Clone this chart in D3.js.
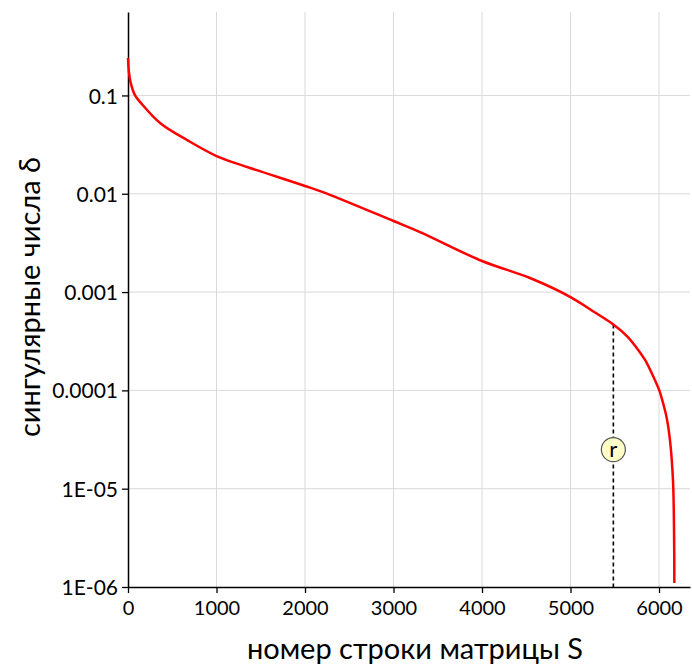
<!DOCTYPE html>
<html>
<head>
<meta charset="utf-8">
<script src="https://cdn.jsdelivr.net/npm/d3@7"></script>
<style>
  body { margin: 0; background: #fff; }
  text { font-family: Lato, "Open Sans", sans-serif; fill: #000; }
</style>
</head>
<body>
<div id="chart"></div>
<script>
// singular values
var rowIndex = [0, 10, 30, 80, 150, 362, 667, 1000, 1379, 2000, 2288, 3000, 3300, 4000, 4542, 5000, 5258, 5484, 5640, 5750, 5842, 5936, 6003, 6049, 6087, 6124, 6158, 6170, 6173];
var sigma = [0.241, 0.175, 0.135, 0.1, 0.083, 0.0525, 0.0352, 0.0242, 0.0183, 0.0120, 0.0097, 0.00528, 0.00407, 0.00207, 0.00139, 0.00089, 0.000635, 0.000468, 0.000355, 0.000269, 0.000204, 0.000138, 0.0001, 0.0000724, 0.0000525, 0.000031, 0.000012, 0.0000035, 0.0000011];

var xTicks = [0, 1000, 2000, 3000, 4000, 5000, 6000];
var yTicks = [0.1, 0.01, 0.001, 0.0001, 0.00001, 0.000001];
var yTickLabels = ["0.1", "0.01", "0.001", "0.0001", "1E-05", "1E-06"];

var rankR = 5484;      // dashed marker
var sigmaR = 0.000468;
var rLabelAt = 0.000025;

var W = 692, H = 665;
var margin = {top: 12, right: 2, bottom: 78, left: 128};
var width = W - margin.left - margin.right,
    height = H - margin.top - margin.bottom;

var svg = d3.select("#chart").append("svg")
  .attr("width", W)
  .attr("height", H)
  .append("g")
  .attr("transform", "translate(" + margin.left + "," + margin.top + ")");

var x = d3.scaleLinear().domain([0, 6350]).range([0, width]);
var y = d3.scaleLog().domain([0.000001, 0.706]).range([height, 0]);

// grid
svg.append("g").selectAll("line")
  .data(xTicks.slice(1)).enter().append("line")
  .attr("x1", function(d) { return x(d); })
  .attr("x2", function(d) { return x(d); })
  .attr("y1", 0).attr("y2", height)
  .attr("stroke", "#d9d9d9").attr("stroke-width", 1);
svg.append("g").selectAll("line")
  .data(yTicks.slice(0, -1)).enter().append("line")
  .attr("x1", 0).attr("x2", width)
  .attr("y1", function(d) { return y(d); })
  .attr("y2", function(d) { return y(d); })
  .attr("stroke", "#d9d9d9").attr("stroke-width", 1);

// axes
var xAxis = svg.append("g")
  .attr("transform", "translate(0," + height + ")")
  .call(d3.axisBottom(x).tickValues(xTicks).tickFormat(d3.format("d"))
    .tickSize(6).tickSizeOuter(0).tickPadding(8));
var yAxis = svg.append("g")
  .call(d3.axisLeft(y).tickValues(yTicks).tickSize(6).tickSizeOuter(0).tickPadding(4)
    .tickFormat(function(d, i) { return yTickLabels[i]; }));

[xAxis, yAxis].forEach(function(a) {
  a.select(".domain").attr("stroke", "#000").attr("stroke-width", 1.5);
  a.selectAll(".tick line").attr("stroke", "#000").attr("stroke-width", 1.3);
  a.selectAll("text").style("font-size", "20px").attr("fill", "#000");
});
yAxis.selectAll("text").style("font-size", "21px").attr("dy", "0.36em");

// dashed r line
svg.append("line")
  .attr("x1", x(rankR)).attr("x2", x(rankR))
  .attr("y1", y(sigmaR)).attr("y2", height)
  .attr("stroke", "#000").attr("stroke-width", 1.6)
  .attr("stroke-dasharray", "4,3");

// curve
var pts = rowIndex.map(function(d, i) { return [d, sigma[i]]; });
svg.append("path")
  .datum(pts)
  .attr("fill", "none")
  .attr("stroke", "#ff0000")
  .attr("stroke-width", 2.5)
  .attr("d", d3.line()
    .x(function(d) { return x(d[0]); })
    .y(function(d) { return y(d[1]); })
    .curve(d3.curveCatmullRom.alpha(0.5)));

// r badge
var badge = svg.append("g")
  .attr("transform", "translate(" + x(rankR) + "," + y(rLabelAt) + ")");
badge.append("circle").attr("r", 12)
  .attr("fill", "#ffffc8").attr("stroke", "#555").attr("stroke-width", 1.2);
badge.append("text").attr("text-anchor", "middle").attr("dy", "0.35em")
  .style("font-size", "22px").text("r");

// titles
svg.append("text")
  .attr("x", 415 - margin.left)
  .attr("y", 659 - margin.top)
  .attr("text-anchor", "middle")
  .style("font-size", "29px")
  .text("номер строки матрицы S");
svg.append("text")
  .attr("transform", "translate(" + (40 - margin.left) + "," + (297 - margin.top) + ") rotate(-90)")
  .attr("text-anchor", "middle")
  .style("font-size", "29px")
  .text("сингулярные числа δ");
</script>
</body>
</html>
